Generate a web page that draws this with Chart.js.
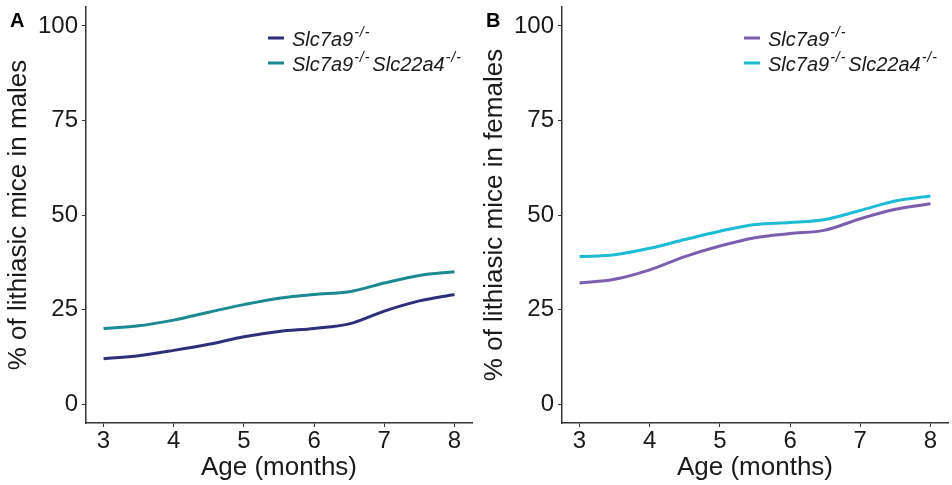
<!DOCTYPE html>
<html>
<head>
<meta charset="utf-8">
<script src="https://cdn.jsdelivr.net/npm/chart.js@4/dist/chart.umd.min.js"></script>
<style>
  body { margin: 0; background: #fff; }
  .row { display: flex; width: 952px; height: 485px; }
  .panel { position: relative; width: 476px; height: 485px; }
</style>
</head>
<body>
<div class="row">
  <div class="panel"><canvas id="chartA" width="476" height="485"></canvas></div>
  <div class="panel"><canvas id="chartB" width="476" height="485"></canvas></div>
</div>
<script>
const months = [3, 3.5, 4, 4.5, 5, 5.5, 6, 6.5, 7, 7.5, 8];
const maleSlc7a9 = [12, 12.8, 14.2, 15.8, 17.8, 19.2, 20, 21.2, 24.6, 27.3, 29];
const maleDouble = [20, 20.7, 22.2, 24.3, 26.3, 28, 29, 29.7, 32, 34, 35];
const femaleSlc7a9 = [32, 33, 35.5, 39, 41.8, 44, 45.1, 46, 49, 51.5, 53];
const femaleDouble = [39, 39.5, 41.2, 43.5, 45.7, 47.5, 48, 48.8, 51.2, 53.7, 55];
const xTicks = [3, 4, 5, 6, 7, 8];
const yTicks = [0, 25, 50, 75, 100];

const FONT = "'Liberation Sans', Arial, sans-serif";
const AXIS = '#333333';
const TEXT = '#1a1a1a';

// legend with italic gene names and superscripts
function legendPlugin(panel, colors) {
  return {
    id: 'geneLegend' + panel,
    afterDraw(chart) {
      const ctx = chart.ctx;
      ctx.save();
      // panel letter
      ctx.fillStyle = '#000';
      ctx.font = 'bold 20px ' + FONT;
      ctx.textBaseline = 'alphabetic';
      ctx.textAlign = 'left';
      ctx.fillText(panel, 10, 27);

      const rows = [
        [['Slc7a9', false], ['-/-', true]],
        [['Slc7a9', false], ['-/-', true], ['Slc22a4', false], ['-/-', true]]
      ];
      const baselines = [46, 71];
      rows.forEach((parts, i) => {
        const yMid = baselines[i] - 8;
        ctx.strokeStyle = colors[i];
        ctx.lineWidth = 3;
        ctx.beginPath();
        ctx.moveTo(268, yMid);
        ctx.lineTo(284, yMid);
        ctx.stroke();
        let x = 292;
        ctx.fillStyle = TEXT;
        parts.forEach(([txt, sup]) => {
          if (sup) {
            ctx.font = 'italic 14px ' + FONT;
            x += 1;
            for (const ch of txt) {
              ctx.fillText(ch, x, baselines[i] - 9);
              x += ctx.measureText(ch).width + 1;
            }
            x += 2;
          } else {
            ctx.font = 'italic 20px ' + FONT;
            ctx.fillText(txt, x, baselines[i]);
            x += ctx.measureText(txt).width;
          }
        });
      });
      ctx.restore();
    }
  };
}

function makeChart(id, panel, sexLabel, seriesA, seriesB, colors) {
  const ctx = document.getElementById(id).getContext('2d');
  return new Chart(ctx, {
    type: 'line',
    data: {
      datasets: [
        { label: 'Slc7a9-/-', data: months.map((m, i) => ({ x: m, y: seriesA[i] })), borderColor: colors[0] },
        { label: 'Slc7a9-/- Slc22a4-/-', data: months.map((m, i) => ({ x: m, y: seriesB[i] })), borderColor: colors[1] }
      ]
    },
    options: {
      responsive: false,
      animation: false,
      devicePixelRatio: 1,
      layout: { padding: { left: 0, right: 4, top: 7, bottom: 0 } },
      elements: {
        line: { borderWidth: 3, cubicInterpolationMode: 'monotone', fill: false },
        point: { radius: 0 }
      },
      plugins: { legend: { display: false }, tooltip: { enabled: false } },
      scales: {
        x: {
          type: 'linear',
          min: 2.75,
          max: 8.25,
          afterBuildTicks: (s) => { s.ticks = xTicks.map(v => ({ value: v })); },
          afterFit: (s) => { s.height = 62; s.paddingLeft = 0; s.paddingRight = 0; },
          grid: { display: true, drawOnChartArea: false, drawTicks: true, tickLength: 4, color: AXIS, tickWidth: 1 },
          border: { display: true, color: AXIS, width: 1.5 },
          ticks: { color: TEXT, font: { family: FONT, size: 24 }, padding: 0, maxRotation: 0 },
          title: { display: true, text: 'Age (months)', color: TEXT, font: { family: FONT, size: 26 }, padding: { top: 0, bottom: 2 } }
        },
        y: {
          type: 'linear',
          min: -5,
          max: 105,
          afterBuildTicks: (s) => { s.ticks = yTicks.map(v => ({ value: v })); },
          afterFit: (s) => { s.width = 86; s.paddingTop = 0; s.paddingBottom = 0; },
          grid: { display: true, drawOnChartArea: false, drawTicks: true, tickLength: 4, color: AXIS, tickWidth: 1 },
          border: { display: true, color: AXIS, width: 1.5 },
          ticks: { color: TEXT, font: { family: FONT, size: 24 }, padding: 4 },
          title: { display: true, text: '% of lithiasic mice in ' + sexLabel, color: TEXT, font: { family: FONT, size: 26 }, padding: { top: 3, bottom: 0 } }
        }
      }
    },
    plugins: [legendPlugin(panel, colors)]
  });
}

makeChart('chartA', 'A', 'males', maleSlc7a9, maleDouble, ['#2e2f7a', '#1a8a90']);
makeChart('chartB', 'B', 'females', femaleSlc7a9, femaleDouble, ['#7b5eae', '#1cbcd4']);
</script>
</body>
</html>
